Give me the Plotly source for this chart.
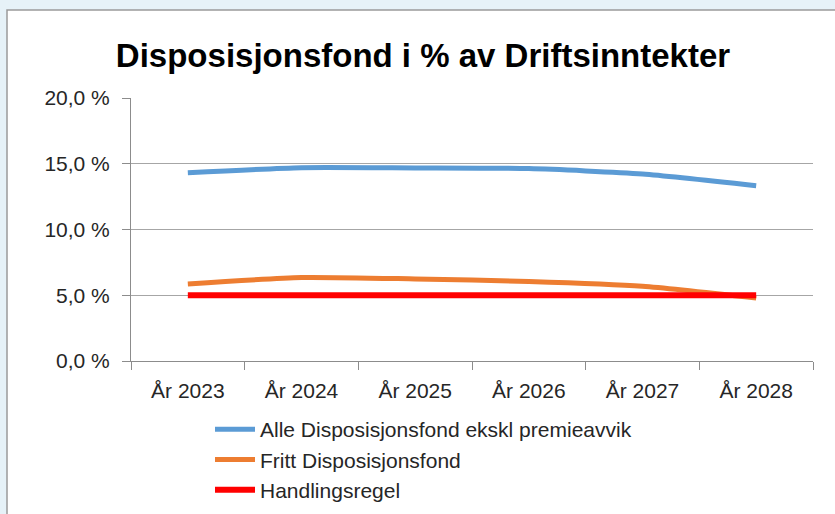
import plotly.graph_objects as go

categories = ["År 2023", "År 2024", "År 2025", "År 2026", "År 2027", "År 2028"]
alle_disp = [14.32, 14.70, 14.68, 14.63, 14.22, 13.33]
fritt_disp = [5.86, 6.35, 6.24, 6.05, 5.68, 4.78]
handlingsregel = [5.0, 5.0, 5.0, 5.0, 5.0, 5.0]
y_tickvals = [0, 5, 10, 15, 20]
y_ticktext = ["0,0 %", "5,0 %", "10,0 %", "15,0 %", "20,0 %"]

W, H = 835, 514
L, R, T, B = 131, 22, 98, 153
pw, ph = W - L - R, H - T - B

fig = go.Figure()
fig.add_trace(go.Scatter(x=categories, y=alle_disp, mode="lines",
                         name="Alle Disposisjonsfond ekskl premieavvik",
                         line=dict(color="#5b9bd5", width=5, shape="spline", smoothing=0.6)))
fig.add_trace(go.Scatter(x=categories, y=fritt_disp, mode="lines",
                         name="Fritt Disposisjonsfond",
                         line=dict(color="#ed7d31", width=5, shape="spline", smoothing=0.6)))
fig.add_trace(go.Scatter(x=categories, y=handlingsregel, mode="lines",
                         name="Handlingsregel",
                         line=dict(color="#ff0000", width=6)))

def px_x(p):
    return (p - L) / pw

def px_y(p):
    return (H - B - p) / ph

fig.update_layout(
    width=W, height=H,
    margin=dict(l=L, r=R, t=T, b=B, pad=0, autoexpand=False),
    paper_bgcolor="#e6f2f8",
    plot_bgcolor="white",
    font=dict(family="Liberation Sans, Arial, sans-serif", color="#404040", size=21),
    title=dict(text="<b>Disposisjonsfond i % av Driftsinntekter</b>",
               font=dict(size=33, color="#000000", family="Liberation Sans, Arial, sans-serif"),
               x=423 / W, xanchor="center", xref="container",
               y=1 - 55 / H, yanchor="middle", yref="container"),
    shapes=[dict(type="rect", xref="paper", yref="paper", layer="below",
                 x0=px_x(7), x1=px_x(W + 5), y0=px_y(H + 5), y1=px_y(10),
                 fillcolor="white", line=dict(color="#9a9a9a", width=1.5))],
    showlegend=True,
    legend=dict(x=210 / W, xref="container", xanchor="left",
                y=1 - 409 / H, yref="container", yanchor="top",
                bgcolor="rgba(0,0,0,0)", font=dict(size=21, color="#262626"),
                tracegroupgap=0, itemwidth=40),
    xaxis=dict(type="category", range=[-0.5, 5.5], showgrid=False, showline=True,
               linecolor="#8c8c8c", linewidth=1,
               ticks="outside", tickson="boundaries", ticklen=8, tickcolor="#8c8c8c",
               ticklabelstandoff=11,
               tickfont=dict(size=21, color="#262626"), fixedrange=True),
    yaxis=dict(range=[0, 20], tickvals=y_tickvals, ticktext=y_ticktext,
               showgrid=True, gridcolor="#a6a6a6", gridwidth=1,
               showline=True, linecolor="#8c8c8c", linewidth=1,
               ticks="outside", ticklen=8, tickcolor="#8c8c8c",
               ticklabelstandoff=8,
               tickfont=dict(size=21, color="#262626"), zeroline=False, fixedrange=True),
)

fig.write_html("out.html", config={"displayModeBar": False},
               post_script="document.body.style.margin='0';document.body.style.overflow='hidden';")
